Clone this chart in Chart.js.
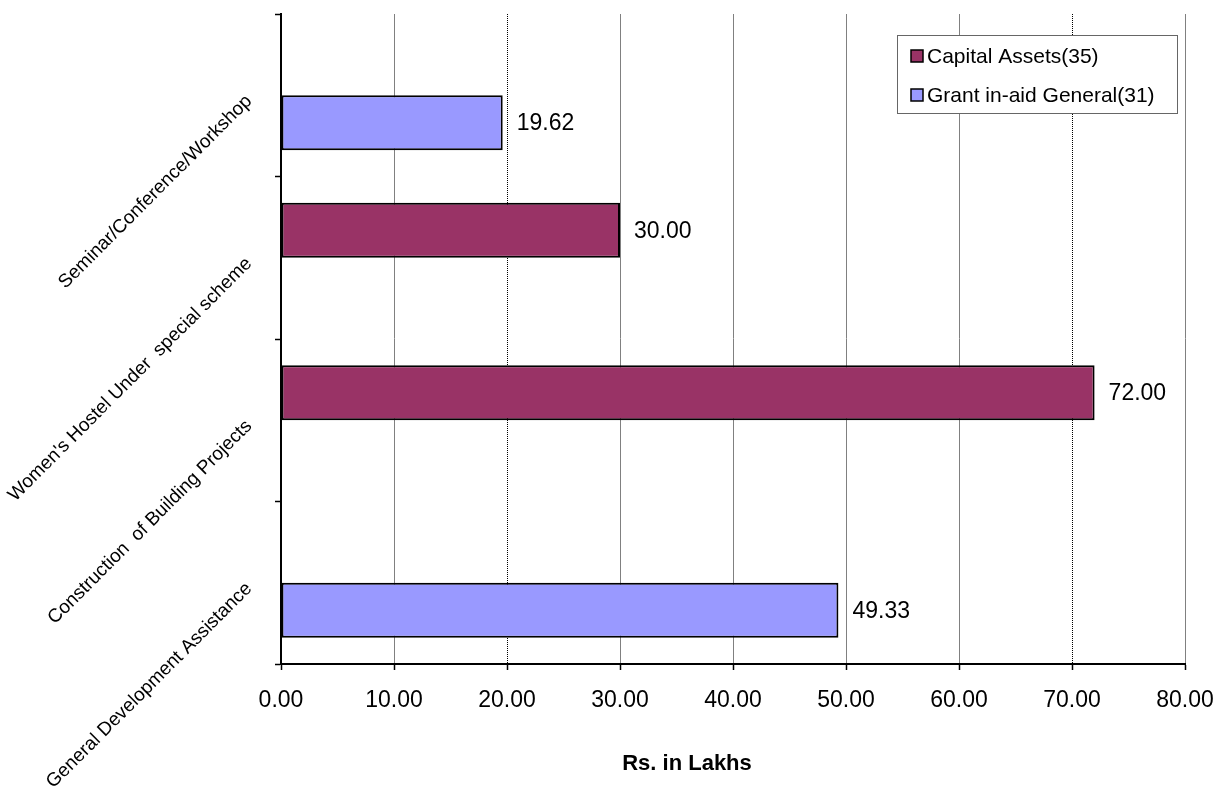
<!DOCTYPE html>
<html>
<head>
<meta charset="utf-8">
<title>Rs. in Lakhs</title>
<script src="https://cdn.jsdelivr.net/npm/chart.js@4.4.1/dist/chart.umd.min.js"></script>
<style>
  html, body { margin: 0; padding: 0; background: #fff; }
  #chart { display: block; }
</style>
</head>
<body>
<canvas id="chart" width="1217" height="791"></canvas>
<script>
const categories = ['Seminar/Conference/Workshop', "Women's Hostel Under  special scheme", 'Construction  of Building Projects', 'General Development Assistance']
const capitalAssets = [null, 30.00, 72.00, null]
const grantInAid = [19.62, null, null, 49.33]
const seriesNames = ['Capital Assets(35)', 'Grant in-aid General(31)']
const xTicks = [0, 10, 20, 30, 40, 50, 60, 70, 80]
const dottedTicks = [20, 70]
const axisTitle = 'Rs. in Lakhs'

const FONT = '"Liberation Sans", Arial, sans-serif'

// value printed to the right of each bar
const valueLabels = {
    id: 'valueLabels',
    afterDatasetsDraw(chart){
        const ctx = chart.ctx
        ctx.save()
        ctx.font = '23px ' + FONT
        ctx.fillStyle = '#000'
        ctx.textAlign = 'left'
        ctx.textBaseline = 'middle'
        chart.data.datasets.forEach((ds, i) => {
            chart.getDatasetMeta(i).data.forEach((bar, j) => {
                const v = ds.data[j]
                if (v == null) return
                ctx.fillText(v.toFixed(2), bar.x + 14, bar.y + 1)
            })
        })
        ctx.restore()
    }
}

// the two grid lines that show up dotted in the original
const dottedGrid = {
    id: 'dottedGrid',
    beforeDatasetsDraw(chart){
        const ctx = chart.ctx, area = chart.chartArea, x = chart.scales.x
        ctx.save()
        ctx.strokeStyle = '#000'
        ctx.lineWidth = 1
        ctx.setLineDash([1, 1])
        dottedTicks.forEach(v => {
            const px = Math.round(x.getPixelForValue(v)) + 0.5
            ctx.beginPath()
            ctx.moveTo(px, area.top)
            ctx.lineTo(px, area.bottom)
            ctx.stroke()
        })
        ctx.restore()
    }
}

// boxed legend in the upper right + axis title
const boxLegend = {
    id: 'boxLegend',
    afterDraw(chart){
        const ctx = chart.ctx, area = chart.chartArea
        const left = area.right - 288, top = 35, w = 280, h = 78
        ctx.save()
        ctx.fillStyle = '#fff'
        ctx.fillRect(left, top, w, h)
        ctx.strokeStyle = '#666'
        ctx.lineWidth = 1
        ctx.strokeRect(left + 0.5, top + 0.5, w, h)

        ctx.font = '21px ' + FONT
        ctx.textAlign = 'left'
        ctx.textBaseline = 'middle'
        chart.data.datasets.forEach((ds, i) => {
            const y = top + 21 + i * 39
            ctx.fillStyle = ds.backgroundColor
            ctx.fillRect(left + 14, y - 6, 12, 12)
            ctx.strokeStyle = '#000'
            ctx.lineWidth = 1.5
            ctx.strokeRect(left + 14, y - 6, 12, 12)
            ctx.fillStyle = '#000'
            ctx.fillText(ds.label, left + 30, y + 1)
        })

        ctx.font = 'bold 22px ' + FONT
        ctx.textAlign = 'center'
        ctx.fillText(axisTitle, (area.left + area.right) / 2 - 46, 764)
        ctx.restore()
    }
}

function noScalePadding(scale){
    scale.paddingTop = 0
    scale.paddingBottom = 0
    scale.paddingLeft = 0
    scale.paddingRight = 0
}

const ctx = document.getElementById('chart').getContext('2d')
const fundsChart = new Chart(ctx, {
    type: 'bar',
    data: {
        labels: categories,
        datasets: [{
            label: seriesNames[0],
            data: capitalAssets,
            backgroundColor: '#993366',
            borderColor: '#000',
            borderWidth: 2,
            borderSkipped: false
        }, {
            label: seriesNames[1],
            data: grantInAid,
            backgroundColor: '#9999FF',
            borderColor: '#000',
            borderWidth: 2,
            borderSkipped: false
        }]
    },
    options: {
        indexAxis: 'y',
        responsive: false,
        animation: false,
        devicePixelRatio: 1,
        categoryPercentage: 0.677,
        barPercentage: 1,
        layout: { padding: { left: 0, top: 14, right: 32, bottom: 0 } },
        plugins: {
            legend: { display: false },
            tooltip: { enabled: false }
        },
        scales: {
            x: {
                min: xTicks[0],
                max: xTicks[xTicks.length - 1],
                ticks: {
                    stepSize: xTicks[1] - xTicks[0],
                    color: '#000',
                    padding: 17,
                    font: { family: FONT, size: 23 },
                    callback: v => Number(v).toFixed(2)
                },
                grid: {
                    color: c => dottedTicks.includes(c.tick && c.tick.value) ? 'rgba(0,0,0,0)' : '#808080',
                    lineWidth: 1,
                    tickLength: 6,
                    tickColor: '#000',
                    tickWidth: 1.5
                },
                border: { color: '#000', width: 2 },
                afterFit(scale){
                    scale.height = 127
                    noScalePadding(scale)
                }
            },
            y: {
                ticks: {
                    color: '#000',
                    minRotation: 45,
                    maxRotation: 45,
                    padding: 26,
                    labelOffset: 3,
                    font: { family: FONT, size: 19 }
                },
                grid: {
                    drawOnChartArea: false,
                    tickLength: 6,
                    tickColor: '#000',
                    tickWidth: 1.5
                },
                border: { color: '#000', width: 2 },
                afterFit(scale){
                    scale.width = 281
                    noScalePadding(scale)
                }
            }
        }
    },
    plugins: [dottedGrid, valueLabels, boxLegend]
})
</script>
</body>
</html>
